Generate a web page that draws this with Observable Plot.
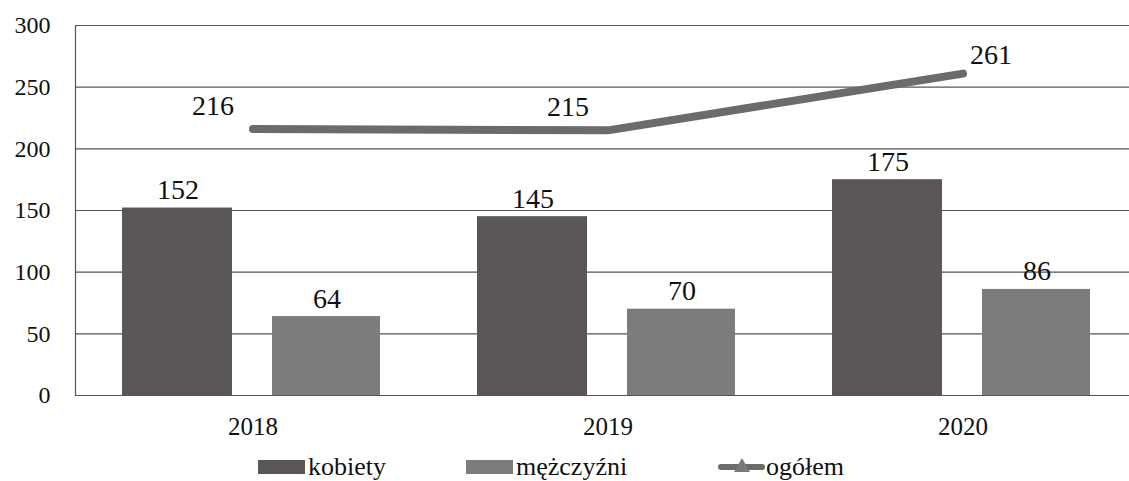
<!DOCTYPE html>
<html>
<head>
<meta charset="utf-8">
<script src="https://cdn.jsdelivr.net/npm/d3@7"></script>
<script src="https://cdn.jsdelivr.net/npm/@observablehq/plot@0.6"></script>
<style>
  body { margin: 0; background: #fff; font-family: "Liberation Serif", serif; }
  #chart svg { display: block; overflow: visible; }
  .legend { display: flex; align-items: center; padding-left: 258px; padding-top: 7px; font-size: 26px; color: #111; height: 30px; }
  .item { display: flex; align-items: center; }
  .sw { width: 47px; height: 14px; margin-right: 3px; }
  .lsw { position: relative; width: 47px; height: 14px; margin-right: 1px; }
  .lsw .ln { position: absolute; left: 0; right: 0; top: 4px; height: 6px; border-radius: 3px; background: #6b6b6b; }
  .lsw .tri { position: absolute; left: 16px; top: -2px; width: 0; height: 0; border-left: 8px solid transparent; border-right: 8px solid transparent; border-bottom: 14px solid #7a7a7a; }
</style>
</head>
<body>
<div id="chart"></div>
<div class="legend">
  <div class="item" style="width:208px"><div class="sw" style="background:#5b5757"></div><span>kobiety</span></div>
  <div class="item" style="width:252px"><div class="sw" style="background:#7e7b7b"></div><span>mężczyźni</span></div>
  <div class="item"><div class="lsw"><div class="ln"></div><div class="tri"></div></div><span>ogółem</span></div>
</div>
<script>
const years = ["2018", "2019", "2020"];
const kobiety = [152, 145, 175];
const mezczyzni = [64, 70, 86];
const ogolem = [216, 215, 261];
const yTicks = [0, 50, 100, 150, 200, 250, 300];

const dataK = years.map((y, i) => ({year: y, value: kobiety[i]}));
const dataM = years.map((y, i) => ({year: y, value: mezczyzni[i]}));
const dataO = years.map((y, i) => ({year: y, value: ogolem[i]}));

const chart = Plot.plot({
  width: 1129,
  height: 445,
  marginLeft: 75,
  marginRight: 0,
  marginTop: 25,
  marginBottom: 50,
  style: {fontFamily: "Liberation Serif, serif", background: "#fff", color: "#111"},
  x: {domain: years, range: [75, 1140], padding: 0, label: null},
  y: {domain: [0, 300], range: [395, 25], label: null},
  marks: [
    Plot.gridY(yTicks, {stroke: "#555", strokeOpacity: 1, strokeWidth: 1.2}),
    Plot.ruleX([0], {x: () => years[0], dx: -177.5, y1: 0, y2: 300, stroke: "#555", strokeWidth: 1.2}),
    Plot.axisY(yTicks, {tickSize: 0, tickPadding: 25, fontSize: 24, label: null}),
    Plot.axisX({tickSize: 0, tickPadding: 22, fontSize: 25, label: null}),
    Plot.barY(dataK, {x: "year", y: "value", fill: "#5b5757", insetLeft: 47, insetRight: 198}),
    Plot.barY(dataM, {x: "year", y: "value", fill: "#7e7b7b", insetLeft: 197, insetRight: 50}),
    Plot.text(dataK, {x: "year", y: "value", text: d => String(d.value), dx: -75, dy: -18, fontSize: 28, fill: "#111"}),
    Plot.text(dataM, {x: "year", y: "value", text: d => String(d.value), dx: 74, dy: -18, fontSize: 28, fill: "#111"}),
    Plot.line(dataO, {x: "year", y: "value", stroke: "#6b6b6b", strokeWidth: 8, strokeLinecap: "round", strokeLinejoin: "round"}),
    Plot.text(dataO.slice(0, 2), {x: "year", y: "value", text: d => String(d.value), dx: -40, dy: -23, fontSize: 28, fill: "#111"}),
    Plot.text(dataO.slice(2), {x: "year", y: "value", text: d => String(d.value), dx: 28, dy: -19, fontSize: 28, fill: "#111"})
  ]
});
document.getElementById("chart").appendChild(chart);
</script>
</body>
</html>
